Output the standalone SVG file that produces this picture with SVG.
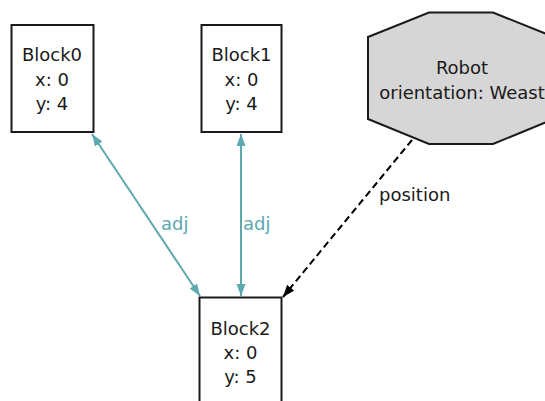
<svg xmlns="http://www.w3.org/2000/svg" width="545" height="401" viewBox="0 0 545 401">
  <style>
    .box { fill: #ffffff; stroke: #1a1a1a; stroke-width: 2; }
    .robot { fill: #d6d6d6; stroke: #1a1a1a; stroke-width: 2; }
    text { font-family: "DejaVu Sans", "Liberation Sans", sans-serif; font-size: 18px; text-anchor: middle; }
    .lbl { fill: #1a1a1a; }
    .adj { stroke: #5ea8b0; stroke-width: 2; fill: none; }
    .adjtxt { fill: #5ea8b0; text-anchor: start; }
    .pos { stroke: #000000; stroke-width: 2; fill: none; stroke-dasharray: 7 4; }
    .postxt { fill: #1a1a1a; text-anchor: start; }
  </style>
  <defs>
    <marker id="tealHead" markerUnits="userSpaceOnUse" markerWidth="13" markerHeight="10" refX="12" refY="4.5" orient="auto-start-reverse">
      <path d="M0,0 L12,4.5 L0,9 z" fill="#5ea8b0"/>
    </marker>
    <marker id="blackHead" markerUnits="userSpaceOnUse" markerWidth="13" markerHeight="10" refX="12" refY="4.5" orient="auto">
      <path d="M0,0 L12,4.5 L0,9 z" fill="#000000"/>
    </marker>
  </defs>

  <g id="connectors">
    <line class="adj" x1="92" y1="134" x2="200" y2="296" marker-start="url(#tealHead)" marker-end="url(#tealHead)"/>
    <text class="adjtxt" x="161" y="230">adj</text>
    <line class="adj" x1="241" y1="134" x2="241" y2="296" marker-start="url(#tealHead)" marker-end="url(#tealHead)"/>
    <text class="adjtxt" x="243" y="230">adj</text>
    <line class="pos" x1="412" y1="140" x2="283" y2="297" marker-end="url(#blackHead)"/>
    <text class="postxt" x="379" y="201">position</text>
  </g>

  <g id="Block0">
    <rect class="box" x="11.5" y="25" width="82" height="107"/>
    <text class="lbl" x="52" y="61">Block0</text>
    <text class="lbl" x="52" y="85.5">x: 0</text>
    <text class="lbl" x="52" y="110">y: 4</text>
  </g>

  <g id="Block1">
    <rect class="box" x="201.5" y="25" width="80" height="107"/>
    <text class="lbl" x="241.5" y="61">Block1</text>
    <text class="lbl" x="241.5" y="85.5">x: 0</text>
    <text class="lbl" x="241.5" y="110">y: 4</text>
  </g>

  <g id="Robot">
    <polygon class="robot" points="429,12.5 493,12.5 554,37 554,119 493,144 429,144 368,119 368,37"/>
    <text class="lbl" x="462" y="74">Robot</text>
    <text class="lbl" x="462" y="99">orientation: Weast</text>
  </g>

  <g id="Block2">
    <rect class="box" x="199.5" y="297.5" width="82" height="110"/>
    <text class="lbl" x="240.5" y="335">Block2</text>
    <text class="lbl" x="240.5" y="359">x: 0</text>
    <text class="lbl" x="240.5" y="383">y: 5</text>
  </g>
</svg>
